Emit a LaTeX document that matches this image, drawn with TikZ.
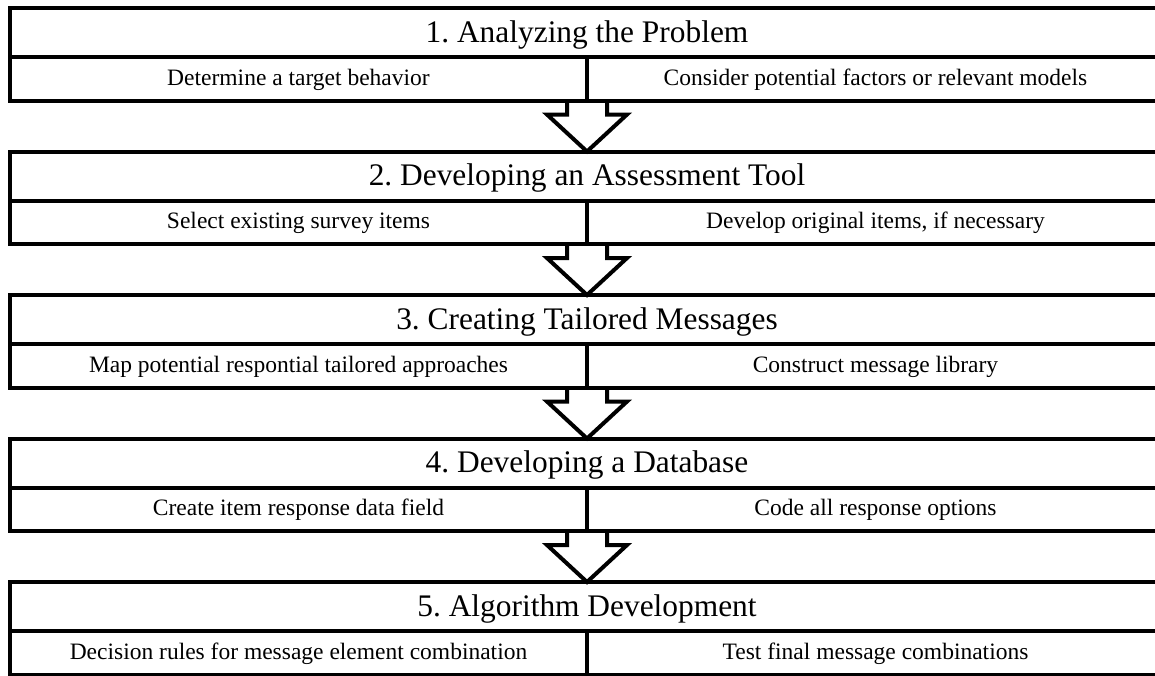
\documentclass[tikz,border=0pt]{standalone}
\usepackage{fontspec}
\setmainfont{Liberation Serif}
\usetikzlibrary{calc}

\tikzset{
  stagebox/.style={draw, line width=4pt, inner sep=0pt, outer sep=0pt, minimum width=1154pt,
    minimum height=49pt, text height=25pt, text depth=6pt,
    font=\fontsize{31.4}{36}\selectfont},
  taskbox/.style={draw, line width=4pt, inner sep=0pt, outer sep=0pt, minimum width=577pt,
    minimum height=43.5pt, text height=18pt, text depth=5pt,
    font=\fontsize{23.5}{28}\selectfont},
  hollowarrow/.style={line width=4pt, miter limit=10},
}

\begin{document}
\frenchspacing
\begin{tikzpicture}[x=1pt,y=-1pt]
    \path[use as bounding box] (0,0) rectangle (1155,675);
    \clip (0,0) rectangle (1155,675);
    \fill[white] (0,0) rectangle (1155,675);

    \foreach \i/\stage/\ta/\tb in {%
      1/{1. Analyzing the Problem}/{Determine a target behavior}/{Consider potential factors or relevant models},
      2/{2. Developing an Assessment Tool}/{Select existing survey items}/{Develop original items, if necessary},
      3/{3. Creating Tailored Messages}/{Map potential respontial tailored approaches}/{Construct message library},
      4/{4. Developing a Database}/{Create item response data field}/{Code all response options},
      5/{5. Algorithm Development}/{Decision rules for message element combination}/{Test final message combinations}}{% one stage per row
      \node[stagebox, anchor=north] (s\i) at (587,{8+(\i-1)*143.5}) {\stage};
      \node[taskbox, anchor=north east] (a\i) at (s\i.south) {\ta};
      \node[taskbox, anchor=north west] (b\i) at (s\i.south) {\tb};
    }

    % hollow arrows from each stage down to the next one
    \foreach \i [evaluate=\i as \j using int(\i+1)] in {1,...,4}{%
      \draw[hollowarrow] ([xshift=-20pt]a\i.south east) -- ++(0,14) -- ++(-20,0)
        -- (s\j.north) -- ($(b\i.south west)+(40,14)$) -- ++(-20,0)
        -- ([xshift=20pt]b\i.south west);
    }
\end{tikzpicture}
\end{document}
